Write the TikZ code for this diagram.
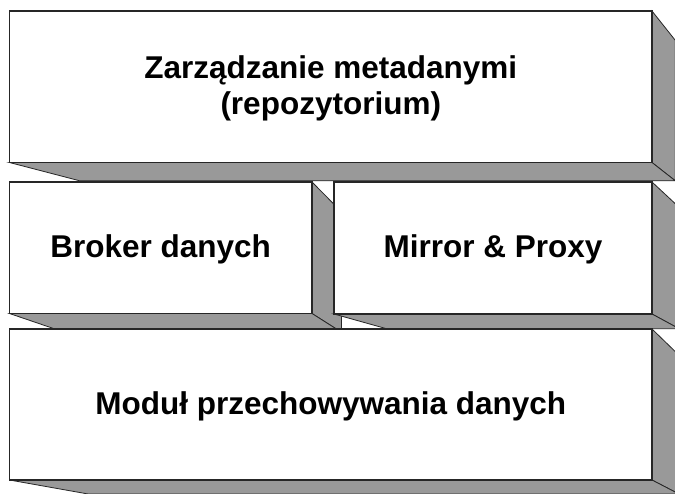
\documentclass[tikz,border=0pt]{standalone}
\usepackage{fontspec}
\setmainfont{Liberation Sans}
\usetikzlibrary{calc}
\definecolor{sidegray}{HTML}{999999}
\tikzset{
  sideface/.style={fill=sidegray, draw=black!85, line width=0.8pt, line join=miter},
  frontface/.style={fill=white, draw=black!85, line width=1.1pt},
  boxlabel/.style={font=\bfseries\fontsize{31.5}{36.5}\selectfont, align=center, inner sep=0pt}
}
\newcommand\extrbox[9]{%
  \coordinate (#1-tl) at (#2,#3);
  \coordinate (#1-tr) at (#4,#3);
  \coordinate (#1-br) at (#4,#5);
  \coordinate (#1-bl) at (#2,#5);
  \coordinate (#1-vp) at (#6,#7);
  \coordinate (#1-trb) at ($(#1-tr)!#8!(#1-vp)$);
  \coordinate (#1-brb) at ($(#1-br)!#8!(#1-vp)$);
  \coordinate (#1-blb) at ($(#1-bl)!#8!(#1-vp)$);
  \draw[sideface] (#1-tr) -- (#1-trb) -- (#1-brb) -- (#1-br) -- cycle;
  \draw[sideface] (#1-bl) -- (#1-br) -- (#1-brb) -- (#1-blb) -- cycle;
  \draw[frontface] (#1-tl) rectangle (#1-br);
  \node[boxlabel] (#1) at ($(#1-tl)!0.5!(#1-br)+(0,1.5)$) {#9};
}
\begin{document}
\begin{tikzpicture}[x=1pt,y=-1pt]
\useasboundingbox (0,0) rectangle (675,493);
\clip (0,0) rectangle (675,493);
\fill[white] (0,0) rectangle (675,493);
\extrbox{repo}{9.5}{11}{652}{162.5}{971}{413}{0.073}{Zarządzanie metadanymi\\(repozytorium)}
\extrbox{broker}{9.5}{182}{312}{313.5}{662}{536}{0.084}{Broker danych}
\extrbox{mirror}{334}{182}{652}{314}{991}{498}{0.08}{Mirror \& Proxy}
\extrbox{modul}{9.5}{329}{652}{480}{987}{654}{0.08}{Moduł przechowywania danych}
\end{tikzpicture}
\end{document}
